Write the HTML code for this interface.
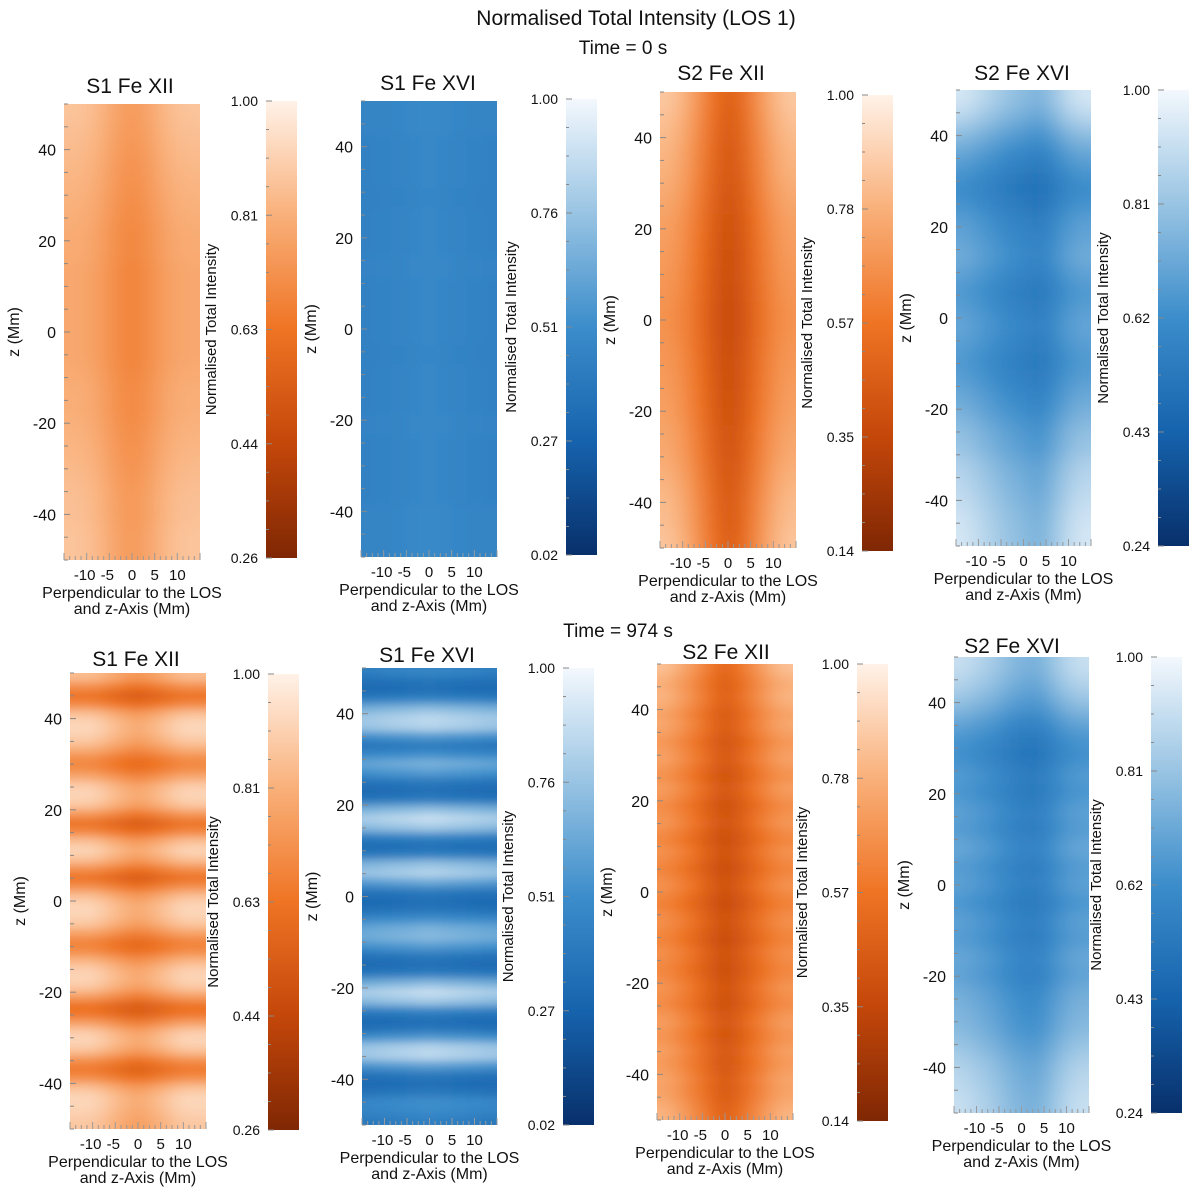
<!DOCTYPE html>
<html><head><meta charset="utf-8">
<style>
html,body{margin:0;padding:0;background:#fff;}
svg{display:block;font-family:"Liberation Sans",Arial,sans-serif;}
</style></head>
<body>
<svg id="fig" width="1200" height="1191" viewBox="0 0 1200 1191" xmlns="http://www.w3.org/2000/svg">
<defs id="defs"></defs>
<text x="636" y="25" font-size="21" text-anchor="middle" fill="#111">Normalised Total Intensity (LOS 1)</text>
<text x="623" y="54" font-size="19" text-anchor="middle" fill="#111">Time = 0 s</text>
<text x="618" y="637" font-size="19" text-anchor="middle" fill="#111">Time = 974 s</text>
</svg>
<script>
// ---- data arrays (normalised intensity profiles) ----
const xTickLabels = [-10, -5, 0, 5, 10];
const zTickLabels = [40, 20, 0, -20, -40];
const cbTicksA = ["1.00","0.81","0.63","0.44","0.26"];
const cbTicksB = ["1.00","0.76","0.51","0.27","0.02"];
const cbTicksC = ["1.00","0.78","0.57","0.35","0.14"];
const cbTicksD = ["1.00","0.81","0.62","0.43","0.24"];

const xProfA = [1.0,0.99,0.95,0.89,0.86,0.89,0.95,0.99,1.0];
const zProfA = [0.87,0.86,0.85,0.84,0.83,0.82,0.81,0.80,0.80,0.79,0.79,0.79,0.79,0.79,0.79,0.80,0.81,0.81,0.82,0.83,0.84,0.85,0.86,0.86,0.87,0.87];
const xProfB = [0.97,0.98,1.0,1.02,1.05,1.02,1.0,0.98,0.97];
const zProfB = [0.47,0.47,0.46,0.46,0.46,0.45,0.46,0.46,0.46,0.47,0.46,0.46,0.46,0.46,0.45,0.46,0.46,0.46,0.47,0.46,0.46,0.46,0.46,0.47,0.47,0.47];
const xProfC = [1.0,0.93,0.80,0.65,0.55,0.62,0.78,0.92,1.0];
const zProfC = [0.86,0.84,0.82,0.80,0.79,0.77,0.75,0.73,0.72,0.71,0.70,0.69,0.68,0.68,0.69,0.70,0.71,0.72,0.73,0.75,0.76,0.78,0.80,0.82,0.83,0.85];
const xProfD = [1.1,1.05,1.0,0.95,0.92,0.88,0.95,1.05,1.1];
const zProfD = [0.85,0.80,0.72,0.65,0.60,0.56,0.58,0.62,0.64,0.66,0.63,0.60,0.62,0.64,0.62,0.60,0.62,0.65,0.68,0.72,0.74,0.78,0.80,0.82,0.84,0.85];
const xProfE = [1.0,1.0,0.95,0.9,0.86,0.9,0.95,1.0,1.0];
const zProfE = [0.85,0.72,0.62,0.70,0.86,0.92,0.92,0.88,0.80,0.70,0.70,0.80,0.90,0.92,0.88,0.74,0.62,0.70,0.86,0.92,0.86,0.72,0.62,0.72,0.86,0.92,0.92,0.88,0.78,0.68,0.70,0.82,0.90,0.92,0.88,0.76,0.62,0.64,0.78,0.90,0.92,0.86,0.72,0.64,0.72,0.86,0.92,0.92,0.90,0.88];
const xProfF = [0.95,0.98,1.0,1.02,1.05,1.02,1.0,0.98,0.95];
const zProfF = [0.45,0.35,0.32,0.45,0.70,0.82,0.80,0.55,0.38,0.50,0.65,0.55,0.38,0.32,0.40,0.70,0.85,0.75,0.45,0.32,0.42,0.72,0.80,0.60,0.38,0.32,0.36,0.50,0.65,0.68,0.55,0.38,0.32,0.40,0.68,0.85,0.75,0.45,0.32,0.36,0.55,0.80,0.82,0.58,0.38,0.32,0.38,0.50,0.48,0.42];
const xProfG = [1.0,0.92,0.82,0.70,0.60,0.68,0.80,0.92,1.0];
const zProfG = [0.84,0.80,0.78,0.80,0.78,0.74,0.76,0.74,0.70,0.72,0.74,0.70,0.68,0.72,0.70,0.66,0.68,0.70,0.66,0.64,0.68,0.66,0.63,0.66,0.68,0.64,0.62,0.66,0.67,0.64,0.63,0.67,0.66,0.64,0.66,0.69,0.67,0.66,0.70,0.72,0.69,0.70,0.73,0.71,0.72,0.75,0.74,0.75,0.78,0.80];
const xProfH = [1.08,1.04,1.0,0.94,0.90,0.88,0.95,1.04,1.08];
const zProfH = [0.84,0.80,0.74,0.66,0.60,0.58,0.62,0.60,0.64,0.62,0.66,0.62,0.64,0.60,0.64,0.62,0.66,0.64,0.68,0.70,0.72,0.76,0.80,0.82,0.84];

// ---- colour maps ----
const orangeStops = [[0,"#7f2704"],[0.25,"#c4470a"],[0.5,"#ef7424"],[0.75,"#f9b07a"],[1,"#fff2e8"]];
const blueStops = [[0,"#08306b"],[0.25,"#1663ad"],[0.5,"#3c8dcb"],[0.75,"#99c4e3"],[1,"#f3f8fd"]];
function hex2rgb(h){return [parseInt(h.substr(1,2),16),parseInt(h.substr(3,2),16),parseInt(h.substr(5,2),16)];}
function cmap(stops,t){
  t=Math.max(0,Math.min(1,t));
  for(let i=1;i<stops.length;i++){
    if(t<=stops[i][0]){
      const a=stops[i-1],b=stops[i];const f=(t-a[0])/(b[0]-a[0]);
      const ca=hex2rgb(a[1]),cb=hex2rgb(b[1]);
      return "rgb("+ca.map((v,k)=>Math.round(v+(cb[k]-v)*f)).join(",")+")";
    }
  }
  return stops[stops.length-1][1];
}

// ---- layout (positions only) ----
const panels = [
 {id:"s1-fexii-t0",title:"S1 Fe XII",tx:130,ty:93,hx:64,hy:104,hw:136,hh:456,cbx:266,cby:101,cbh:457,cm:"o",lo:0.26,ticks:cbTicksA,xp:xProfA,zp:zProfA},
 {id:"s1-fexvi-t0",title:"S1 Fe XVI",tx:428,ty:90,hx:361,hy:101,hw:136,hh:456,cbx:566,cby:99,cbh:456,cm:"b",lo:0.02,ticks:cbTicksB,xp:xProfB,zp:zProfB},
 {id:"s2-fexii-t0",title:"S2 Fe XII",tx:721,ty:80,hx:660,hy:92,hw:136,hh:456,cbx:862,cby:95,cbh:456,cm:"o",lo:0.14,ticks:cbTicksC,xp:xProfC,zp:zProfC},
 {id:"s2-fexvi-t0",title:"S2 Fe XVI",tx:1022,ty:80,hx:956,hy:90,hw:135,hh:456,cbx:1158,cby:90,cbh:456,cm:"b",lo:0.24,ticks:cbTicksD,xp:xProfD,zp:zProfD},
 {id:"s1-fexii-t974",title:"S1 Fe XII",tx:136,ty:666,hx:70,hy:673,hw:136,hh:456,cbx:268,cby:674,cbh:456,cm:"o",lo:0.26,ticks:cbTicksA,xp:xProfE,zp:zProfE},
 {id:"s1-fexvi-t974",title:"S1 Fe XVI",tx:427,ty:662,hx:362,hy:668,hw:135,hh:457,cbx:563,cby:668,cbh:457,cm:"b",lo:0.02,ticks:cbTicksB,xp:xProfF,zp:zProfF},
 {id:"s2-fexii-t974",title:"S2 Fe XII",tx:726,ty:659,hx:657,hy:664,hw:136,hh:456,cbx:857,cby:664,cbh:457,cm:"o",lo:0.14,ticks:cbTicksC,xp:xProfG,zp:zProfG},
 {id:"s2-fexvi-t974",title:"S2 Fe XVI",tx:1012,ty:653,hx:954,hy:657,hw:135,hh:456,cbx:1151,cby:657,cbh:456,cm:"b",lo:0.24,ticks:cbTicksD,xp:xProfH,zp:zProfH}
];

const NS="http://www.w3.org/2000/svg";
const svg=document.getElementById("fig");
const defs=document.getElementById("defs");
function mk(tag,attrs,parent){const e=document.createElementNS(NS,tag);for(const k in attrs)e.setAttribute(k,attrs[k]);(parent||svg).appendChild(e);return e;}

panels.forEach((p,pi)=>{
  const stops=p.cm==="o"?orangeStops:blueStops;
  const g=mk("g",{});
  
  
  const xs=v=>p.hx+(v+15)/30*p.hw;
  const zs=v=>p.hy+(50-v)/100*p.hh;
  const tOf=v=>(v-p.lo)/(1-p.lo);
  const t=mk("text",{x:p.tx,y:p.ty,"font-size":21,"text-anchor":"middle",fill:"#111"},g);
  t.textContent=p.title;
  
  
  // heatmap (padded with duplicated edge cells so blur doesn't fade edges)
  const nx=p.xp.length, nz=p.zp.length;
  const cw=p.hw/nx, ch=p.hh/nz, pad=4;
  const clip=mk("clipPath",{id:"clip"+pi},defs);
  mk("rect",{x:p.hx,y:p.hy,width:p.hw,height:p.hh},clip);
  const filt=mk("filter",{id:"blur"+pi,x:p.hx-60,y:p.hy-60,width:p.hw+120,height:p.hh+120,filterUnits:"userSpaceOnUse"},defs);
  mk("feGaussianBlur",{stdDeviation:(cw*0.55)+" "+(ch*0.45)},filt);
  const outer=mk("g",{"clip-path":"url(#clip"+pi+")"},g);
  const hm=mk("g",{filter:"url(#blur"+pi+")"},outer);
  
  
  for(let j=-pad;j<nz+pad;j++){
    const jj=Math.max(0,Math.min(nz-1,j));
    for(let i=-pad;i<nx+pad;i++){
      const ii=Math.max(0,Math.min(nx-1,i));
      const v=Math.min(1,p.xp[ii]*p.zp[jj]);
      const c=mk("rect",{x:p.hx+i*cw-0.3,y:p.hy+j*ch-0.3,width:cw+0.6,height:ch+0.6,fill:cmap(stops,tOf(v))},hm);
      
      
    }
  }
  for(let z=-50;z<=50;z+=5){
    const y=zs(z);const major=z%20===0;
    mk("line",{x1:p.hx,x2:p.hx+(major?6:4),y1:y,y2:y,stroke:"#888","stroke-width":1},g);
  }
  zTickLabels.forEach(z=>{
    const l=mk("text",{x:p.hx-8,y:zs(z)+6,"font-size":16,"text-anchor":"end",fill:"#111"},g);
    l.textContent=String(z);
    
    
  });
  for(let x=-15;x<=15;x+=1.25){
    const xx=xs(x);const major=Math.abs(x%5)<0.01;
    mk("line",{x1:xx,x2:xx,y1:p.hy+p.hh,y2:p.hy+p.hh-(major?7:4),stroke:"#999","stroke-width":1},g);
  }
  xTickLabels.forEach(x=>{
    const l=mk("text",{x:xs(x)-(x<0?2:0),y:p.hy+p.hh+20,"font-size":15,"text-anchor":"middle",fill:"#111"},g);
    l.textContent=String(x);
    
    
  });
  const cx=p.hx+p.hw/2;
  const xl1=mk("text",{x:cx,y:p.hy+p.hh+38,"font-size":16,"text-anchor":"middle",fill:"#111"},g);
  xl1.textContent="Perpendicular to the LOS";
  
  
  const xl2=mk("text",{x:cx,y:p.hy+p.hh+54,"font-size":16,"text-anchor":"middle",fill:"#111"},g);
  xl2.textContent="and z-Axis (Mm)";
  
  
  const zy=p.hy+p.hh/2, zx=p.hx-45;
  const zl=mk("text",{x:zx,y:zy,"font-size":16,"text-anchor":"middle",fill:"#111",transform:"rotate(-90 "+zx+" "+zy+")"},g);
  zl.textContent="z (Mm)";
  
  
  const gid="grad"+pi;
  const lg=mk("linearGradient",{id:gid,x1:0,y1:1,x2:0,y2:0},defs);
  stops.forEach(s=>mk("stop",{offset:s[0],"stop-color":s[1]},lg));
  const cb=mk("rect",{x:p.cbx,y:p.cby,width:31,height:p.cbh,fill:"url(#"+gid+")"},g);
  
  
  for(let k=0;k<=16;k++){
    const y=p.cby+k*p.cbh/16;
    mk("line",{x1:p.cbx,x2:p.cbx+(k%4===0?6:3),y1:y,y2:y,stroke:"#888","stroke-width":1},g);
  }
  p.ticks.forEach((s,k)=>{
    const l=mk("text",{x:p.cbx-8,y:p.cby+k*p.cbh/4+5,"font-size":14,"text-anchor":"end",fill:"#111"},g);
    l.textContent=s;
    
    
  });
  const by=p.cby+p.cbh/2, bx=p.cbx-50;
  const bl=mk("text",{x:bx,y:by,"font-size":15,"text-anchor":"middle",fill:"#111",transform:"rotate(-90 "+bx+" "+by+")"},g);
  bl.textContent="Normalised Total Intensity";
  
  
});
</script>
</body></html>
